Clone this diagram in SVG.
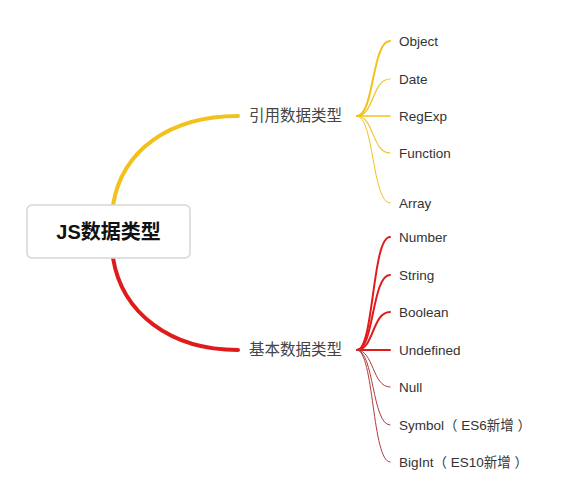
<svg xmlns="http://www.w3.org/2000/svg" width="564" height="490" viewBox="0 0 564 490">
<style>
.main{fill:none;stroke-width:4;stroke-linecap:round}
.y{stroke:#F2C21B}
.r{stroke:#E01B1B}
.leaf{fill:none;stroke-linecap:round}
.lbl{font-family:"Noto Sans CJK SC","Liberation Sans",sans-serif;font-size:15.5px;fill:#444}
.t{font-family:"Liberation Sans","Noto Sans CJK SC",sans-serif;font-size:13.5px;fill:#333}
.root{font-family:"Liberation Sans","Noto Sans CJK SC",sans-serif;font-size:20px;font-weight:bold;fill:#111}
</style>
<rect width="564" height="490" fill="#fff"/>
<g id="connectors">
<path class="main y" d="M113 205 C122 150 170 116 238 116"/>
<path class="main r" d="M113 258 C122 313 170 350 238 350"/>
<path class="leaf y" stroke-width="2" d="M357 116 C374 116 372 41 390 41"/>
<path class="leaf y" stroke-width="1.2" d="M357 116 C374 116 372 79 390 79"/>
<path class="leaf y" stroke-width="1.6" d="M357 116 L390 116"/>
<path class="leaf y" stroke-width="1.1" d="M357 116 C374 116 372 153 390 153"/>
<path class="leaf y" stroke-width="1" d="M357 116 C374 116 372 203 390 203"/>
<path class="leaf r" stroke-width="2" d="M357 350 C374 350 372 237 390 237"/>
<path class="leaf r" stroke-width="2" d="M357 350 C374 350 372 275 390 275"/>
<path class="leaf r" stroke-width="2" d="M357 350 C374 350 372 312 390 312"/>
<path class="leaf r" stroke-width="2" d="M357 350 L390 350"/>
<path class="leaf" stroke="#B43A3A" stroke-width="1" d="M357 350 C374 350 372 387 390 387"/>
<path class="leaf" stroke="#B43A3A" stroke-width="1" d="M357 350 C374 350 372 425 390 425"/>
<path class="leaf" stroke="#B43A3A" stroke-width="1" d="M357 350 C374 350 372 462 390 462"/>
</g>
<g id="root">
<rect x="27" y="205" width="163" height="53" rx="5" fill="#fff" stroke="#d6d6d6" stroke-width="1.5"/>
<text class="root" x="108.5" y="239" text-anchor="middle">JS数据类型</text>
</g>
<g id="ref"><text class="lbl" x="249" y="121">引用数据类型</text></g>
<g id="basic"><text class="lbl" x="249" y="355">基本数据类型</text></g>
<g id="object"><text class="t" x="399" y="46">Object</text></g>
<g id="date"><text class="t" x="399" y="84">Date</text></g>
<g id="regexp"><text class="t" x="399" y="121">RegExp</text></g>
<g id="function"><text class="t" x="399" y="158">Function</text></g>
<g id="array"><text class="t" x="399" y="208">Array</text></g>
<g id="number"><text class="t" x="399" y="242">Number</text></g>
<g id="string"><text class="t" x="399" y="280">String</text></g>
<g id="boolean"><text class="t" x="399" y="317">Boolean</text></g>
<g id="undefined"><text class="t" x="399" y="355">Undefined</text></g>
<g id="null"><text class="t" x="399" y="392">Null</text></g>
<g id="symbol"><text class="t" x="399" y="430">Symbol（ ES6新增 ）</text></g>
<g id="bigint"><text class="t" x="399" y="467">BigInt（ ES10新增 ）</text></g>
</svg>
